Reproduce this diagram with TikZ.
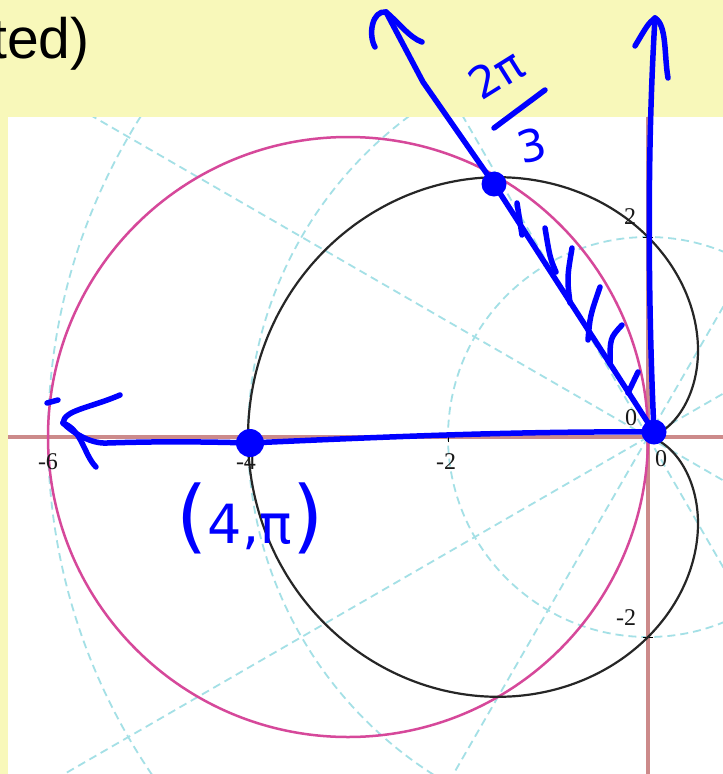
\documentclass[tikz,border=0pt]{standalone}
\usepackage{fontspec}
\setmainfont{Liberation Serif}
\newfontfamily\arialf{Liberation Sans}
\newfontfamily\handf{DejaVu Sans}
\definecolor{bgyel}{HTML}{F8F8BA}
\definecolor{gridc}{HTML}{A4E0E6}
\definecolor{axisc}{HTML}{CC8A8A}
\definecolor{pinkc}{HTML}{D6489A}
\definecolor{cardc}{HTML}{262626}
\definecolor{penblue}{HTML}{0000FF}
\tikzset{
 pgrid/.style={gridc, line width=1.8pt, dash pattern=on 8pt off 5pt},
 paxis/.style={axisc, line width=3.8pt},
 pinkcurve/.style={pinkc, line width=2.5pt},
 cardcurve/.style={cardc, line width=2.2pt},
 tickm/.style={black, line width=1pt},
 ticklbl/.style={font=\fontsize{24}{24}\selectfont, text=black!90, inner sep=0pt},
 bhand/.style={penblue, line width=5.5pt, line cap=round, line join=round},
 bdot/.style={circle, fill=penblue, inner sep=0pt},
 handtxt/.style={text=penblue, inner sep=0pt},
}
\begin{document}
\begin{tikzpicture}[x=1pt,y=-1pt]
\useasboundingbox (0,0) rectangle (723,774);
\fill[bgyel] (0,0) rectangle (723,774);
\fill[white] (8,117) rectangle (723,774);
\begin{scope}
\clip (0,0) rectangle (723,774);
\node[anchor=base west, inner sep=0pt, font=\arialf\fontsize{57}{57}\selectfont] (title) at (-9,58) {ted)};
\end{scope}
% ---------- polar plot ----------
\begin{scope}
\clip (8,117) rectangle (723,774);
\begin{scope}[shift={(648,437)}, x=100pt, y=100pt]
 \foreach \r in {2,4,6,8} \draw[pgrid] (0,0) circle (\r);
 \foreach \a in {0,30,...,330} \draw[pgrid] (0,0) -- (\a:9);
 \draw[paxis] (-7,0) -- (1,0);
 \draw[paxis] (0,-4) -- (0,4);
 \foreach \t in {-6,-4,-2} \draw[tickm] (\t,-0.05) -- (\t,0.05);
 \foreach \t in {-2,2} \draw[tickm] (-0.05,\t) -- (0.05,\t);
 \draw[pinkcurve] (-3,0) circle (3);
 \draw[cardcurve] plot[domain=0:360, samples=241, smooth] ({(2-2*cos(\x))*cos(\x)},{(2-2*cos(\x))*sin(\x)});
\end{scope}
\end{scope}
% tick labels
\node[ticklbl] (lm6) at (48,462) {-6};
\node[ticklbl] (lm4) at (246,462) {-4};
\node[ticklbl] (lm2) at (446,462) {-2};
\node[ticklbl] (l0r) at (661,459) {0};
\node[ticklbl] (l0u) at (631,418) {0};
\node[ticklbl] (l2) at (630,217) {2};
\node[ticklbl] (lm2y) at (626,618) {-2};
% ---------- handwritten annotations ----------
\node[bdot, minimum size=28pt] (Q) at (250,443) {};
\node[bdot, minimum size=25pt] (P) at (494,184) {};
\node[bdot, minimum size=25pt] (O) at (654,432) {};
\coordinate (hl) at (107,443);
\coordinate (tipL) at (63,423);
\coordinate (wL1) at (120,395);
\coordinate (wL2) at (96,467);
\coordinate (dA) at (47,403);
\coordinate (dB) at (58,400);
\coordinate (sD) at (423,82);
\coordinate (tipD) at (386,12);
\coordinate (wD1) at (375,47);
\coordinate (wD2) at (422,42);
\coordinate (tipV) at (655,18);
\coordinate (wV1) at (635,46);
\coordinate (wV2) at (668,78);
% horizontal ray
\draw[bhand] (O.center) .. controls (520,431) and (380,437) .. (Q.center)
  .. controls (180,441) and (140,442) .. (hl)
  .. controls (90,444) and (72,432) .. (tipL);
\draw[bhand] (tipL) .. controls (64,410) and (90,408) .. (wL1);
\draw[bhand] (tipL) .. controls (82,430) and (84,455) .. (wL2);
\draw[bhand] (dA) -- (dB);
% diagonal ray
\draw[bhand] (O.center) -- (P.center) -- (sD) .. controls (405,48) .. (tipD);
\draw[bhand] (tipD) .. controls (372,10) and (368,35) .. (wD1);
\draw[bhand] (tipD) .. controls (398,22) and (410,38) .. (wD2);
% vertical ray
\draw[bhand] (O.center) .. controls (648,300) and (647,150) .. (tipV);
\draw[bhand] (tipV) .. controls (648,24) .. (wV1);
\draw[bhand] (tipV) .. controls (667,25) and (664,55) .. (wV2);
% hatching
\coordinate (ha1) at (517,203); \coordinate (hb1) at (522,235);
\coordinate (ha2) at (545,228); \coordinate (hb2) at (556,272);
\coordinate (ha3) at (572,248); \coordinate (hb3) at (570,303);
\coordinate (ha4) at (600,287); \coordinate (hb4) at (588,340);
\coordinate (ha5) at (622,325); \coordinate (hb5) at (610,364);
\coordinate (ha6) at (638,372); \coordinate (hb6) at (628,393);
\draw[bhand] (ha1) -- (hb1);
\draw[bhand] (ha2) .. controls (550,258) .. (hb2);
\draw[bhand] (ha3) .. controls (567,278) .. (hb3);
\draw[bhand] (ha4) .. controls (590,316) .. (hb4);
\draw[bhand] (ha5) .. controls (610,338) .. (hb5);
\draw[bhand] (ha6) -- (hb6);
% 2pi/3
\node[handtxt, font=\handf\fontsize{44}{44}\selectfont, rotate=32] (twopi) at (496,74) {2π};
\coordinate (fb1) at (494,128);
\coordinate (fb2) at (545,90);
\draw[bhand] (fb1) -- (fb2);
\node[handtxt, font=\handf\fontsize{44}{44}\selectfont, rotate=15] (three) at (532,145) {3};
% (4,pi)
\node[handtxt, font=\handf] (lab) at (250,518) {{\fontsize{80}{80}\selectfont(}{\fontsize{54}{54}\selectfont 4,π}{\fontsize{80}{80}\selectfont)}};
\end{tikzpicture}
\end{document}
